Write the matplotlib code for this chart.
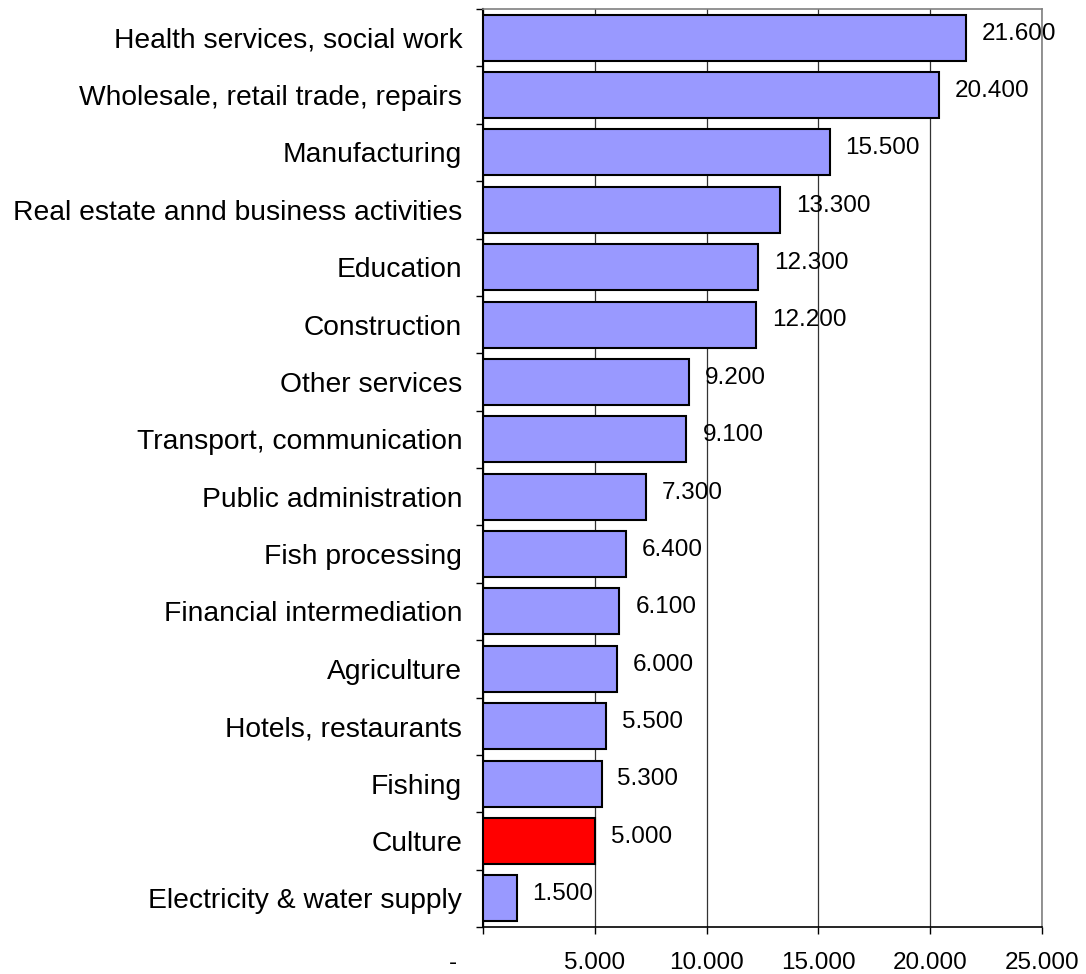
import matplotlib
matplotlib.use('Agg')
import matplotlib.pyplot as plt
import matplotlib.transforms as mtransforms
from matplotlib.ticker import FixedLocator

plt.rcParams['font.family'] = ['Liberation Sans', 'DejaVu Sans']

# employment by sector
sectors = ['Health services, social work', 'Wholesale, retail trade, repairs',
           'Manufacturing', 'Real estate annd business activities', 'Education',
           'Construction', 'Other services', 'Transport, communication',
           'Public administration', 'Fish processing', 'Financial intermediation',
           'Agriculture', 'Hotels, restaurants', 'Fishing', 'Culture',
           'Electricity & water supply']
values = [21600, 20400, 15500, 13300, 12300, 12200, 9200, 9100,
          7300, 6400, 6100, 6000, 5500, 5300, 5000, 1500]
highlight = 'Culture'

x_ticks = [0, 5000, 10000, 15000, 20000, 25000]


def fmt(v):
    # danish style thousands separator
    if v == 0:
        return '-'
    return f'{v:,.0f}'.replace(',', '.')


fig = plt.figure(figsize=(10.86, 9.74), dpi=100)
ax = fig.add_axes([483/1086, 1 - 927/974, (1042 - 483)/1086, (927 - 9)/974])

n = len(sectors)
ypos = list(range(n))
colors = ['#ff0000' if s == highlight else '#9999ff' for s in sectors]

ax.set_axisbelow(True)
ax.xaxis.grid(True, color='#333333', linewidth=0.9)
ax.barh(ypos, values, height=0.8, color=colors, edgecolor='black', linewidth=1.5, zorder=3)

for y, v in zip(ypos, values):
    ax.annotate(fmt(v), (v, y), xytext=(11.5, 3), textcoords='offset points',
                va='center', ha='left', fontsize=17.5, zorder=4)

ax.set_xlim(0, 25000)
ax.set_ylim(n - 0.5, -0.5)

ax.set_xticks(x_ticks)
ax.set_xticklabels([fmt(t) for t in x_ticks], fontsize=17.5)
ax.tick_params(axis='x', direction='out', length=5, width=1, pad=13)
# the zero label sits off to the left of its tick
lbl0 = ax.get_xticklabels()[0]
lbl0.set_transform(lbl0.get_transform() + mtransforms.ScaledTranslation(-30/100, 0, fig.dpi_scale_trans))

ax.set_yticks(ypos)
ax.set_yticklabels(sectors, fontsize=20.3)
ax.yaxis.set_minor_locator(FixedLocator([i - 0.5 for i in range(n + 1)]))
ax.tick_params(axis='y', which='major', length=0, pad=15)
ax.tick_params(axis='y', which='minor', direction='out', length=5, width=1)

ax.spines['left'].set_linewidth(1.5)
ax.spines['bottom'].set_linewidth(1.2)
ax.spines['top'].set_color('#808080')
ax.spines['right'].set_color('#808080')
ax.spines['top'].set_linewidth(1.2)
ax.spines['right'].set_linewidth(1.2)

fig.savefig('out.png', dpi=100, facecolor='white')
